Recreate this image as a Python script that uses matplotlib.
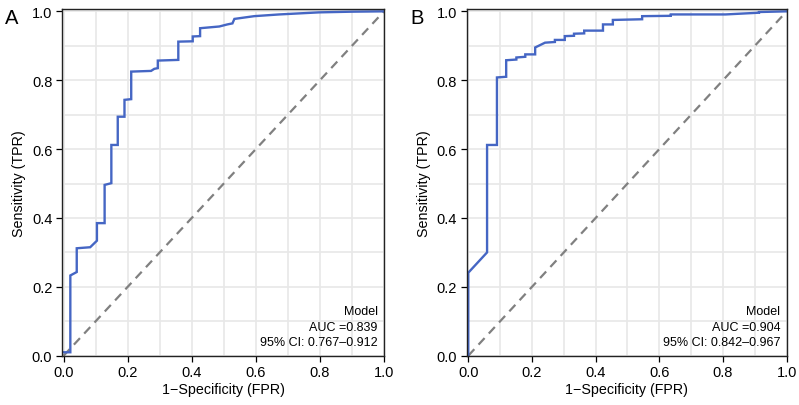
import numpy as np
import matplotlib
matplotlib.use("Agg")
import matplotlib.pyplot as plt

plt.rcParams['font.family'] = ['Liberation Sans', 'DejaVu Sans']

# curve vertices (FPR, TPR)
fpr_a = [0.0, 0.021, 0.021, 0.041, 0.041, 0.083, 0.104, 0.104, 0.128, 0.128,
         0.149, 0.149, 0.169, 0.169, 0.190, 0.190, 0.211, 0.211, 0.273, 0.283,
         0.294, 0.294, 0.358, 0.358, 0.403, 0.403, 0.426, 0.426, 0.486, 0.511,
         0.527, 0.533, 0.595, 0.673, 0.735, 0.797, 0.900, 1.0]
tpr_a = [0.010, 0.010, 0.233, 0.243, 0.312, 0.315, 0.334, 0.385, 0.385, 0.496,
         0.501, 0.612, 0.612, 0.694, 0.694, 0.743, 0.745, 0.825, 0.827, 0.833,
         0.835, 0.857, 0.859, 0.912, 0.913, 0.927, 0.928, 0.951, 0.956, 0.962,
         0.965, 0.978, 0.986, 0.991, 0.994, 0.997, 0.999, 1.0]

fpr_b = [0.0, 0.0, 0.059, 0.059, 0.090, 0.090, 0.119, 0.119, 0.151, 0.151,
         0.179, 0.179, 0.210, 0.210, 0.241, 0.272, 0.272, 0.303, 0.303, 0.332,
         0.332, 0.364, 0.364, 0.423, 0.423, 0.454, 0.454, 0.546, 0.546, 0.636,
         0.636, 0.808, 0.850, 0.913, 0.913, 1.0]
tpr_b = [0.0, 0.241, 0.300, 0.612, 0.612, 0.808, 0.810, 0.858, 0.860, 0.866,
         0.868, 0.875, 0.875, 0.895, 0.909, 0.911, 0.917, 0.917, 0.928, 0.929,
         0.935, 0.936, 0.944, 0.944, 0.962, 0.962, 0.975, 0.977, 0.986, 0.987,
         0.991, 0.991, 0.993, 0.996, 0.998, 1.0]

panels = ["A", "B"]
auc_text = ["Model\nAUC =0.839\n95% CI: 0.767\u20130.912",
            "Model\nAUC =0.904\n95% CI: 0.842\u20130.967"]

fig = plt.figure(figsize=(7.99, 4.06), dpi=100)
ax_a = fig.add_axes([0.0776, 0.1214, 0.403, 0.855])
ax_b = fig.add_axes([0.5841, 0.1214, 0.4005, 0.855])

for ax, fpr, tpr, txt in zip([ax_a, ax_b], [fpr_a, fpr_b], [tpr_a, tpr_b], auc_text):
    ax.set_xlim(-0.005, 1.0)
    ax.set_ylim(0.0, 1.008)
    ax.set_xticks(np.arange(0, 1.01, 0.2))
    ax.set_yticks(np.arange(0, 1.01, 0.2))
    ax.set_xticks(np.arange(0.1, 1.0, 0.2), minor=True)
    ax.set_yticks(np.arange(0.1, 1.0, 0.2), minor=True)
    ax.grid(True, which="both", color="#e8e8e8", lw=1.2)
    ax.set_axisbelow(True)
    ax.tick_params(which="minor", length=0)
    ax.tick_params(which="major", length=4, width=0.9, labelsize=10.5, pad=3)
    for s in ax.spines.values():
        s.set_linewidth(1.0)
        s.set_color("#222222")

    ax.plot([0, 1], [0, 1], color="#808080", lw=1.6, dashes=(4, 2.8))
    ax.plot(fpr, tpr, color="#4566c4", lw=1.7, solid_joinstyle="miter")

    ax.set_xlabel("1\u2212Specificity (FPR)", fontsize=10.3, labelpad=2)
    ax.set_ylabel("Sensitivity (TPR)", fontsize=10.3, labelpad=4)
    ax.text(0.98, 0.021, txt, transform=ax.transAxes, ha="right", va="bottom",
            multialignment="right", fontsize=9, linespacing=1.42)

fig.text(11.5 / 799, 1 - 19 / 406, panels[0], fontsize=14.5, ha="center", va="center")
fig.text(417.5 / 799, 1 - 19 / 406, panels[1], fontsize=14.5, ha="center", va="center")

fig.savefig("out.png", dpi=100)
